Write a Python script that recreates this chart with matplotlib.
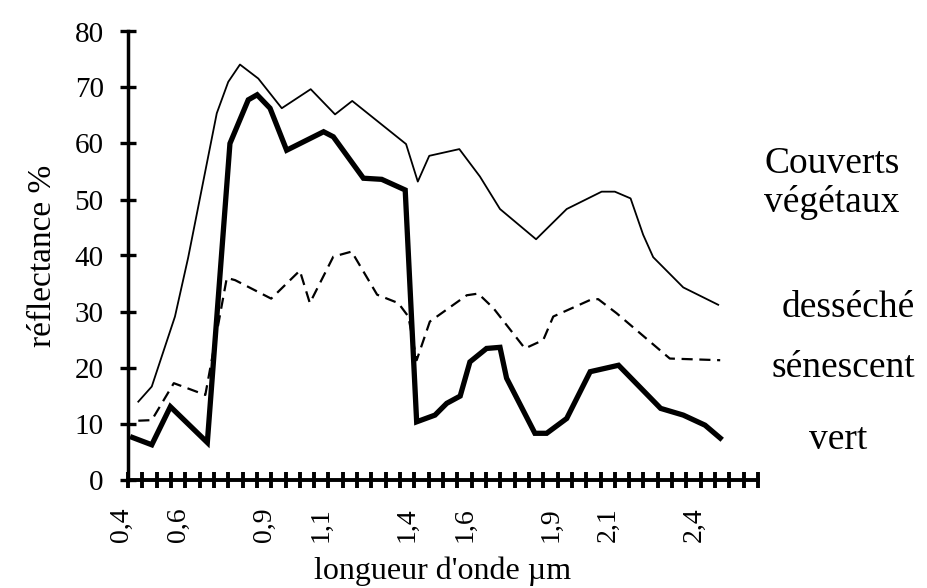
import matplotlib
matplotlib.use("Agg")
import matplotlib.pyplot as plt
import matplotlib.transforms as mtransforms
import numpy as np

plt.rcParams['font.family'] = ['Liberation Serif', 'DejaVu Serif']

# desséché (thin line)
dry_x = [0.436, 0.483, 0.564, 0.61, 0.71, 0.75, 0.791, 0.855, 0.937, 1.038,
         1.123, 1.183, 1.371, 1.412, 1.452, 1.557, 1.629, 1.699, 1.825, 1.932,
         2.054, 2.10, 2.155, 2.199, 2.234, 2.339, 2.461]
dry_y = [13.9, 16.6, 29.1, 39.6, 65.4, 71.0, 74.1, 71.6, 66.3, 69.7,
         65.2, 67.6, 59.9, 53.2, 57.8, 59.0, 54.1, 48.3, 42.9, 48.3,
         51.4, 51.4, 50.2, 43.7, 39.7, 34.3, 31.2]

# sénescent (dashed line)
sen_x = [0.436, 0.483, 0.56, 0.67, 0.745, 0.774, 0.90, 1.0, 1.035, 1.117,
         1.181, 1.27, 1.344, 1.379, 1.408, 1.454, 1.583, 1.623, 1.676, 1.786,
         1.85, 1.885, 2.02, 2.042, 2.106, 2.292, 2.468]
sen_y = [10.5, 10.6, 17.2, 15.1, 36.0, 35.6, 32.3, 37.3, 31.5, 39.8,
         40.7, 33.0, 31.5, 29.1, 21.3, 28.2, 32.9, 33.2, 30.6, 23.4,
         24.9, 29.1, 32.2, 32.2, 29.7, 21.6, 21.3]

# vert (thick line)
green_x = [0.416, 0.483, 0.548, 0.677, 0.756, 0.82, 0.851, 0.896, 0.954, 1.083,
           1.117, 1.222, 1.286, 1.368, 1.408, 1.472, 1.513, 1.56, 1.594, 1.652,
           1.699, 1.722, 1.821, 1.862, 1.932, 2.014, 2.113, 2.26, 2.339, 2.415,
           2.468]
green_y = [7.5, 6.2, 13.0, 6.6, 60.0, 67.8, 68.7, 66.3, 58.8, 62.1,
           61.2, 53.8, 53.6, 51.7, 10.3, 11.5, 13.6, 14.9, 21.0, 23.4,
           23.6, 18.1, 8.25, 8.25, 10.9, 19.25, 20.4, 12.7, 11.5, 9.7,
           7.4]

tick_pos = np.round(np.arange(0.4, 2.6001, 0.05), 2)
labelled = {0.4: "0,4", 0.6: "0,6", 0.9: "0,9", 1.1: "1,1", 1.4: "1,4",
            1.6: "1,6", 1.9: "1,9", 2.1: "2,1", 2.4: "2,4"}
tick_txt = [labelled.get(float(t), "") for t in tick_pos]
y_ticks = list(range(0, 81, 10))

fig = plt.figure(figsize=(9.27, 5.88), dpi=100)
ax = fig.add_axes([128 / 927, 1 - 479.5 / 588, 630 / 927, 448 / 588])

ax.plot(dry_x, dry_y, color='black', lw=1.3)
ax.plot(sen_x, sen_y, color='black', lw=1.6, dashes=(5, 3))
ax.plot(green_x, green_y, color='black', lw=3.8, solid_joinstyle='miter')

ax.set_xlim(0.4, 2.6)
ax.set_ylim(0, 80)
for s in ['top', 'right']:
    ax.spines[s].set_visible(False)
ax.spines['left'].set_linewidth(2.5)
ax.spines['bottom'].set_linewidth(2.8)

ax.set_xticks(tick_pos, tick_txt, rotation=90)
ax.set_yticks(y_ticks)
ax.tick_params(axis='x', direction='inout', length=12, width=2.8, pad=14,
               labelsize=20)
ax.tick_params(axis='y', direction='inout', length=11, width=2.4, pad=12,
               labelsize=21)

# tick labels sit a little left of their ticks in the original
shift = mtransforms.ScaledTranslation(-7 / 100, 0, fig.dpi_scale_trans)
for lab in ax.get_xticklabels():
    lab.set_transform(lab.get_transform() + shift)

ax.set_xlabel("longueur d'onde µm", fontsize=23)
ax.xaxis.set_label_coords(0.5, -0.172)
ax.set_ylabel("réflectance %", fontsize=24, labelpad=12)

fig.text(832 / 927, 1 - 183 / 588, "Couverts\nvégétaux", fontsize=27,
         ha='center', va='center', linespacing=1.15)
fig.text(848 / 927, 1 - 308 / 588, "desséché", fontsize=27, ha='center', va='center')
fig.text(843 / 927, 1 - 368 / 588, "sénescent", fontsize=27, ha='center', va='center')
fig.text(838 / 927, 1 - 440 / 588, "vert", fontsize=27, ha='center', va='center')

fig.savefig("out.png", dpi=100)
